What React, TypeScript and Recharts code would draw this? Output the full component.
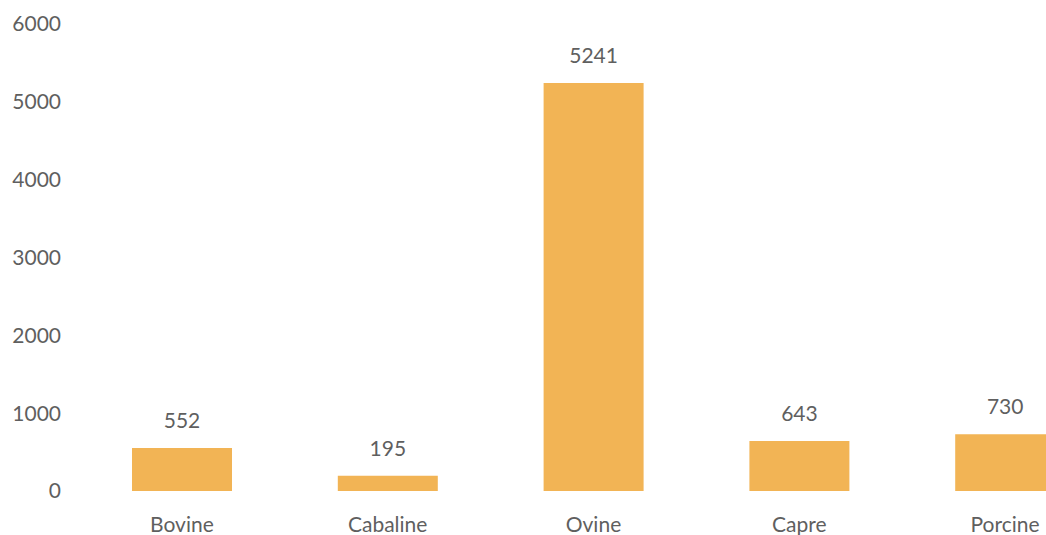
import React from "react";
import { BarChart, Bar, XAxis, YAxis, LabelList } from "recharts";

const categories = ["Bovine", "Cabaline", "Ovine", "Capre", "Porcine"];
const values = [552, 195, 5241, 643, 730];
const yTicks = [0, 1000, 2000, 3000, 4000, 5000, 6000];

const data = categories.map((name, i) => ({ name, value: values[i] }));

const font = "Lato, sans-serif";

const App = () => {
  return (
    <div
      style={{
        position: "absolute",
        left: 0,
        top: 0,
        width: 1046,
        height: 535,
        overflow: "hidden",
        background: "#fff",
      }}
    >
      <BarChart
        width={1108}
        height={535}
        data={data}
        margin={{ top: 24, right: 0, left: 0, bottom: 0 }}
        style={{ fontFamily: font }}
      >
        <XAxis
          dataKey="name"
          axisLine={false}
          tickLine={false}
          height={44}
          tickMargin={20}
          tick={{ fill: "#5f5f5f", fontSize: 21, fontFamily: font }}
        />
        <YAxis
          domain={[0, 6000]}
          ticks={yTicks}
          axisLine={false}
          tickLine={false}
          width={79}
          tickMargin={12}
          tick={{ fill: "#5f5f5f", fontSize: 21, fontFamily: font }}
        />
        <Bar dataKey="value" fill="#F2B455" barSize={100} isAnimationActive={false}>
          <LabelList
            dataKey="value"
            position="top"
            offset={20}
            fill="#5f5f5f"
            fontSize={21}
            fontFamily={font}
          />
        </Bar>
      </BarChart>
    </div>
  );
};

export default App;
